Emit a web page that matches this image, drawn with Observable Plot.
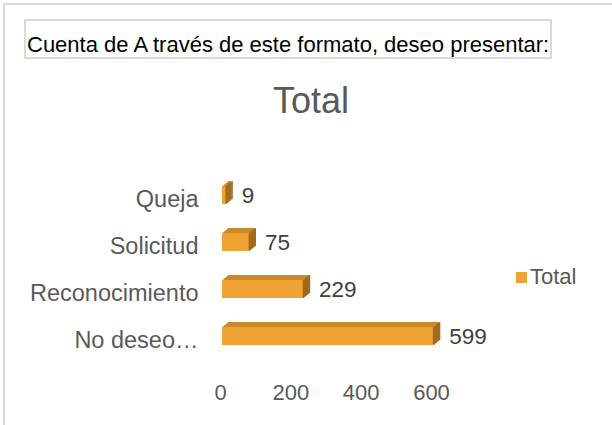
<!DOCTYPE html>
<html>
<head>
<meta charset="utf-8">
<script src="https://cdn.jsdelivr.net/npm/d3@7"></script>
<script src="https://cdn.jsdelivr.net/npm/@observablehq/plot@0.6"></script>
<style>
  html, body { margin: 0; padding: 0; background: #fff; }
  body { width: 612px; height: 425px; position: relative; overflow: hidden; font-family: "Liberation Sans", Arial, sans-serif; }
  #frame { position: absolute; left: 3px; top: 3px; width: 700px; height: 500px; border-top: 2px solid #d9d9d9; border-left: 2px solid #d9d9d9; }
  #titlebox { position: absolute; left: 24px; top: 19px; width: 528px; height: 40px; border: 2px solid #d9d9d9; font-size: 22px; color: #000; line-height: 22px; box-sizing: border-box; padding-top: 13px; padding-left: 1px; white-space: nowrap; }
  #charttitle { position: absolute; left: 0; width: 622px; top: 80px; text-align: center; font-size: 36px; color: #595959; }
  #legend { position: absolute; left: 516px; top: 264px; font-size: 22px; color: #595959; white-space: nowrap; }
  #legend span.sw { display: inline-block; width: 11px; height: 11px; background: #f0a232; margin-right: 3px; vertical-align: 1px; }
  #chart { position: absolute; left: 0; top: 0; }
</style>
</head>
<body>
<div id="frame"></div>
<div id="chart"></div>
<div id="titlebox">Cuenta de A través de este formato, deseo presentar:</div>
<div id="charttitle">Total</div>
<div id="legend"><span class="sw"></span>Total</div>
<script>
const categories = ["Queja", "Solicitud", "Reconocimiento", "No deseo…"];
const values = [9, 75, 229, 599];
const xTicks = [0, 200, 400, 600];
const seriesName = "Total";

const data = categories.map((c, i) => ({category: c, value: values[i]}));

const frontColor = "#f0a232";
const topColor = "#c98a2c";
const sideColor = "#9f6b1f";
const depthX = 6, depthY = 5;

const marks = [];
for (let k = 1; k <= depthX; k++) {
  marks.push(Plot.barX(data, {x: "value", y: "category", fill: topColor, dx: k, dy: -k * depthY / depthX}));
}
for (let k = 0; k <= depthX; k++) {
  marks.push(Plot.tickX(data, {x: "value", y: "category", stroke: sideColor, strokeWidth: 1.3, dx: k + 0.5, dy: -k * depthY / depthX}));
}
marks.push(Plot.barX(data, {x: "value", y: "category", fill: frontColor}));
marks.push(Plot.text(data, {x: "value", y: "category", text: d => String(d.value), dx: 16, textAnchor: "start", fontSize: 22.5, fill: "#404040"}));
marks.push(Plot.axisY({tickSize: 0, tickPadding: 24, fontSize: 23.5, color: "#595959", dy: 4, label: null}));
marks.push(Plot.axisX({ticks: xTicks, tickSize: 0, tickPadding: 9, fontSize: 22, color: "#595959", dx: -2, label: null}));

const chart = Plot.plot({
  width: 612,
  height: 425,
  marginLeft: 222,
  marginRight: 179,
  marginTop: 155,
  marginBottom: 50,
  style: {background: "transparent", fontFamily: "Liberation Sans, Arial, sans-serif", overflow: "visible"},
  x: {domain: [0, 600]},
  y: {domain: categories, padding: 0.62},
  marks
});
document.getElementById("chart").appendChild(chart);
</script>
</body>
</html>
